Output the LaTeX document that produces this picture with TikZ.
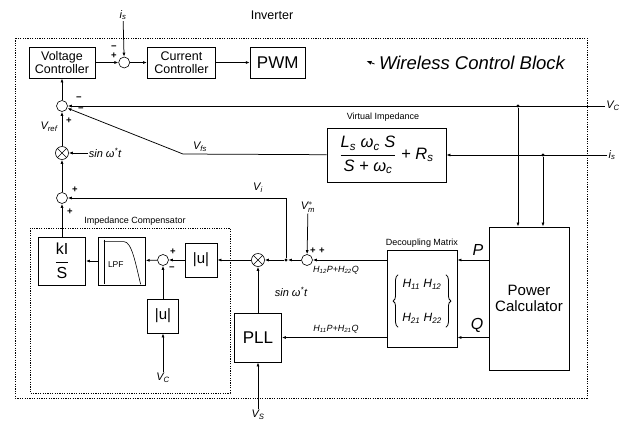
\documentclass[tikz,border=0pt]{standalone}
\usepackage{amsmath}
\usepackage{fontspec}
\setmainfont{Liberation Sans}
\usetikzlibrary{arrows.meta,positioning,calc,decorations.pathreplacing}

\begin{document}
\begin{tikzpicture}[x=1pt,y=-1pt,
blk/.style={draw,thick,align=center,inner sep=1pt,font=\fontsize{12.5}{13}\selectfont},
sum/.style={draw,semithick,circle,minimum size=11pt,inner sep=0pt},
mul/.style={sum,minimum size=13pt,path picture={\draw[semithick]
 (path picture bounding box.north west)--(path picture bounding box.south east)
 (path picture bounding box.south west)--(path picture bounding box.north east);}},
arr/.style={-{Latex[length=4pt,width=3pt]},line width=0.75pt},
jdot/.style={circle,fill,inner sep=0pt,minimum size=3.4pt},
grp/.style={line width=0.9pt,dash pattern=on 1.2pt off 1.2pt},
sig/.style={font=\fontsize{11}{11}\selectfont\itshape,inner sep=1pt},
sgn/.style={font=\fontsize{9.5}{9.5}\selectfont\bfseries,inner sep=0pt},
ttl/.style={font=\fontsize{9}{9}\selectfont,inner sep=1pt},
brc/.style={decorate,decoration={brace,amplitude=5pt},thick}
]
\useasboundingbox (0,0) rectangle (630,424);

% frames
\draw[grp] (15,38) rectangle (587,398);
\draw[grp] (30,228) rectangle (230,393);
\node[font=\fontsize{12.5}{13}\selectfont] (inv) at (272,15) {Inverter};
\node[font=\fontsize{18.5}{18.5}\selectfont\itshape] (wcb) at (472,63) {Wireless Control Block};
\draw[-{Latex[length=5pt,width=4pt]},thick] ($(wcb.west)+(-1,1)$) -- ++(-8,-3);
\node[ttl] (tcomp) at (135,221) {Impedance Compensator};
\node[ttl] (tvi) at (383,117) {Virtual Impedance};
\node[ttl] (tdm) at (422,243) {Decoupling Matrix};

% top row
\node[blk,minimum width=66pt,minimum height=31pt] (vc) at (62,62.5) {Voltage\\Controller};
\node[sum,right=23pt of vc] (s1) {};
\node[blk,minimum width=68pt,minimum height=31pt,right=17pt of s1] (cc) {Current\\Controller};
\node[blk,minimum width=55pt,minimum height=31pt,font=\fontsize{17}{17}\selectfont,right=34pt of cc] (pwm) {PWM};

% left column
\node[sum] (s2) at (62,106) {};
\node[mul] (m1) at (62,153) {};
\node[sum] (s3) at (62,198) {};

% impedance compensator
\node[blk,minimum width=47pt,minimum height=48pt,font=\fontsize{16}{16}\selectfont] (ki) at (62,261) {$\dfrac{\text{kI}}{\text{S}}$};
\node[blk,minimum width=47pt,minimum height=48pt,right=12pt of ki] (lpf) {};
\draw[semithick] ($(lpf.north west)+(6,3)$) -- ($(lpf.south west)+(6,-1)$);
\draw[semithick] ($(lpf.north west)+(6,5)$) -- ++(20,0) .. controls ++(8,0) and ++(-5,-20) .. ($(lpf.south east)+(-5,-1)$);
\node[font=\fontsize{8.5}{9}\selectfont,inner sep=0pt] (lpft) at ($(lpf.center)+(-6,4)$) {LPF};
\node[sum] (s4) at (163,260) {};
\node[blk,minimum width=32pt,minimum height=34pt,font=\fontsize{15}{15}\selectfont] (abs1) at (201,260) {|u|};
\node[blk,minimum width=31pt,minimum height=34pt,font=\fontsize{15}{15}\selectfont] (abs2) at (163,316) {|u|};

% middle
\node[mul] (m2) at (258,260) {};
\node[jdot] (j1) at (286,260) {};
\node[sum] (s5) at (307,260) {};
\node[blk,minimum width=47pt,minimum height=49pt,font=\fontsize{17}{17}\selectfont] (pll) at (258,337.5) {PLL};
\node[blk,minimum width=119pt,minimum height=54pt,font=\fontsize{16.5}{16.5}\selectfont\itshape] (vi) at (386.5,155)
 {$\dfrac{\text{L\textsubscript{s} ω\textsubscript{c} S}}{\text{S + ω\textsubscript{c}}}$ + R\textsubscript{s}};
\node[blk,minimum width=70pt,minimum height=97pt] (dm) at (422,298.5) {};
\node[font=\fontsize{12}{12}\selectfont\itshape,align=center,inner sep=4pt] (hm) at (422,301)
 {H\textsubscript{11} H\textsubscript{12}\\[22pt]H\textsubscript{21} H\textsubscript{22}};
\draw[brc] (hm.south west) -- (hm.north west);
\draw[brc] (hm.north east) -- (hm.south east);
\node[blk,minimum width=80pt,minimum height=143pt,font=\fontsize{15}{16}\selectfont] (pc) at (529,298.5) {Power\\Calculator};

% junctions
\node[jdot] (j2) at (518,106) {};
\node[jdot] (j3) at (543,155) {};
\coordinate (kink) at (183,154);

% signal labels
\node[sig] (isin) at (123,15) {i\textsubscript{s}};
\node[sig] (vcin) at (613,106) {V\textsubscript{C}};
\node[sig] (iin) at (612,155) {i\textsubscript{s}};
\node[sig] (vcin2) at (163,378) {V\textsubscript{C}};
\node[sig] (vsin) at (258,415) {V\textsubscript{S}};
\node[sig] (vmin) at (308,207) {$\text{V}^{*}_{\text{m}}$};
\node[sig] (sin1) at (105,153) {sin ω\textsuperscript{*}t};
\node[sig] (sin2) at (291,292) {sin ω\textsuperscript{*}t};
\node[sig] (vref) at (49,127) {V\textsubscript{ref}};
\node[sig] (vfs) at (200,147) {V\textsubscript{fs}};
\node[sig] (vil) at (258,188) {V\textsubscript{i}};
\node[font=\fontsize{16}{16}\selectfont\itshape] (pl) at (478,250) {P};
\node[font=\fontsize{16}{16}\selectfont\itshape] (ql) at (477,325) {Q};
\node[sig,font=\fontsize{9}{9}\selectfont\itshape] (hpq1) at (336,270) {H\textsubscript{12}P+H\textsubscript{22}Q};
\node[sig,font=\fontsize{9}{9}\selectfont\itshape] (hpq2) at (336,329) {H\textsubscript{11}P+H\textsubscript{21}Q};

% signs
\node[sgn] (s1a) at (114,48) {−};
\node[sgn] (s1b) at (114,56) {+};
\node[sgn] (s2a) at (79,99) {−};
\node[sgn] (s2b) at (81,110) {−};
\node[sgn] (s2c) at (69,121) {+};
\node[sgn] (s3a) at (75,190) {+};
\node[sgn] (s3b) at (70,212) {+};
\node[sgn] (s4a) at (173,252) {+};
\node[sgn] (s4b) at (172,269) {−};
\node[sgn] (s5a) at (313,251) {+};
\node[sgn] (s5b) at (322,251) {+};

% connectors
\draw[arr] (vc) -- (s1);
\draw[arr] (s1) -- (cc);
\draw[arr] (cc) -- (pwm);
\draw[arr] (isin) -- (s1);
\draw[arr] (s2) -- (vc);
\draw[arr] (vcin) -- (s2);
\draw[arr] (j2) -- (j2 |- pc.north);
\draw[arr] (iin) -- (vi);
\draw[arr] (j3) -- (j3 |- pc.north);
\draw[arr] (vi) -- (kink) -- (s2);
\draw[arr] (m1) -- (s2);
\draw[arr] (sin1) -- (m1);
\draw[arr] (s3) -- (m1);
\draw[arr] (ki) -- (s3);
\draw[arr] (j1) -- (j1 |- s3) -- (s3);
\draw[arr] (lpf) -- (ki);
\draw[arr] (s4) -- (lpf);
\draw[arr] (abs1) -- (s4);
\draw[arr] (m2) -- (abs1);
\draw[arr] (j1) -- (m2);
\draw[arr] (s5) -- (j1);
\draw[arr] (dm.west |- s5) -- (s5);
\draw[arr] (vmin) -- (s5);
\draw[arr] (pc.west |- s5) -- (dm.east |- s5);
\draw[arr] (pc.west |- pll) -- (dm.east |- pll);
\draw[arr] (dm.west |- pll) -- (pll);
\draw[arr] (pll) -- (m2);
\draw[arr] (vsin) -- (pll);
\draw[arr] (abs2) -- (s4);
\draw[arr] (vcin2) -- (abs2);
\end{tikzpicture}
\end{document}
